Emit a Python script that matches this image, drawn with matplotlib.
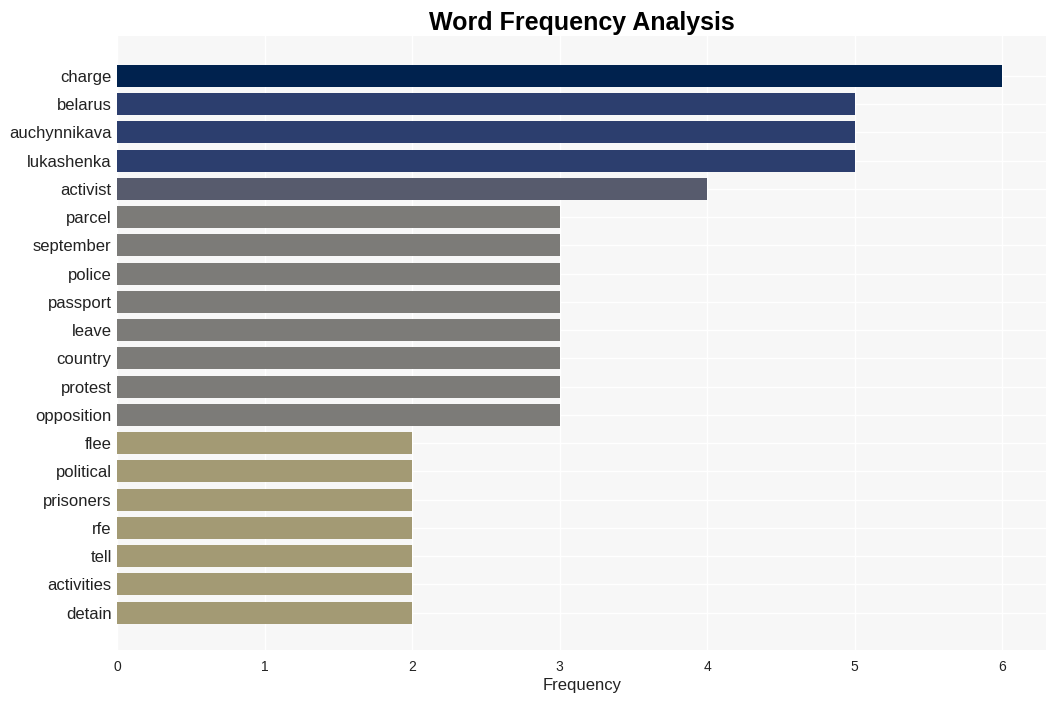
import matplotlib
matplotlib.use('Agg')
import matplotlib.pyplot as plt

plt.rcParams['font.family'] = ['Liberation Sans', 'DejaVu Sans']

words = ['charge', 'belarus', 'auchynnikava', 'lukashenka', 'activist', 'parcel',
         'september', 'police', 'passport', 'leave', 'country', 'protest',
         'opposition', 'flee', 'political', 'prisoners', 'rfe', 'tell',
         'activities', 'detain']
counts = [6, 5, 5, 5, 4, 3, 3, 3, 3, 3, 3, 3, 3, 2, 2, 2, 2, 2, 2, 2]
palette = {6: '#00224e', 5: '#2c3e6e', 4: '#575b6d', 3: '#7c7b78', 2: '#a39a74'}

fig = plt.figure(figsize=(10.56, 7.01), dpi=100)
ax = fig.add_axes([0.111, 0.073, 0.880, 0.876])
ax.set_facecolor('#f7f7f7')

ypos = list(range(len(words)))
ax.barh(ypos, counts, height=0.78, color=[palette[c] for c in counts], zorder=2)

ax.set_yticks(ypos)
ax.set_yticklabels(words, fontsize=12, color='#222222')
ax.set_ylim(20.32, -1.42)
ax.set_xlim(0, 6.3)
ax.set_xticks(range(7))
ax.tick_params(axis='x', labelsize=10, colors='#222222', length=0, pad=7)
ax.tick_params(axis='y', length=0, pad=4)
ax.grid(True, color='white', linewidth=1, zorder=0)
ax.set_axisbelow(True)
for s in ax.spines.values():
    s.set_visible(False)

ax.set_xlabel('Frequency', fontsize=12, color='#222222', labelpad=3)
ax.set_title('Word Frequency Analysis', fontsize=18, fontweight='bold', pad=4)

fig.savefig('out.png', dpi=100, facecolor='white')
